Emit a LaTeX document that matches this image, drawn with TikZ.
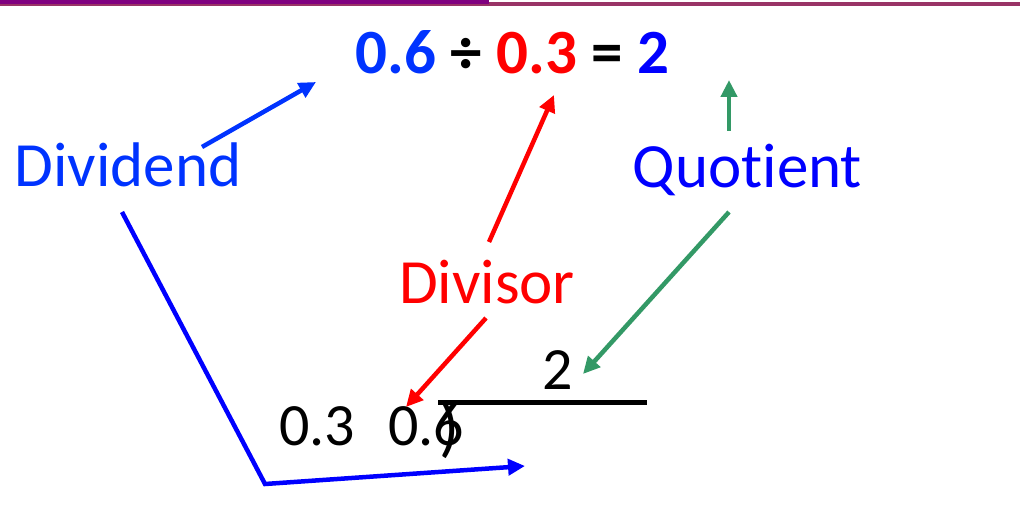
\documentclass[tikz,border=0pt]{standalone}
\usepackage{fontspec}
\setmainfont{Carlito}[Ligatures={NoCommon}]
\usetikzlibrary{arrows.meta}
\definecolor{dblue}{HTML}{0033FF}
\definecolor{pblue}{HTML}{0000FF}
\definecolor{qgreen}{HTML}{339966}
\definecolor{barpurple}{HTML}{800080}
\definecolor{barmaroon}{HTML}{993366}
\tikzset{
  lbl/.style={anchor=base, inner sep=0pt, font=\fontsize{63}{70}\selectfont},
  num/.style={anchor=base, inner sep=0pt, font=\fontsize{60}{66}\selectfont},
  arr/.style={line width=4.5pt, -{Triangle[length=17pt,width=16pt]}},
}
\begin{document}
\begin{tikzpicture}[x=1pt,y=-1pt]
\useasboundingbox (0,0) rectangle (1020,510);
% top bars
\fill[barmaroon] (0,2) rectangle (1020,6);
\fill[barpurple] (0,0) rectangle (489,3.7);
% equation
\node[num, font=\fontsize{63}{68}\selectfont\bfseries] (eq) at (512.5,74)
  {\textcolor{dblue}{0.6} ÷ \textcolor{red}{0.3} = \textcolor{pblue}{2}};
% labels
\node[lbl, text=dblue] (dividend) at (128,187) {Dividend};
\node[lbl, text=pblue] (quotient) at (747.5,188) {Quotient};
\node[lbl, text=red] (divisor) at (487,304) {Divisor};
% long division
\node[num] (d3) at (317,445) {0.3};
\node[num] (d6) at (426,445) {0.6};
\node[num, font=\fontsize{66}{70}\selectfont] (paren) at (450,449) {)};
\node[num] (q2) at (558,390) {2};
\coordinate (barL) at (438,403);
\coordinate (barR) at (647,403);
\draw[line width=5pt] (barL) -- (barR);
% arrow coordinates
\coordinate (a1s) at (202,147); \coordinate (a1e) at (316,82);
\coordinate (a2s) at (122,212); \coordinate (a2m) at (265,484); \coordinate (a2e) at (525,466);
\coordinate (a3s) at (489,242); \coordinate (a3e) at (554,95);
\coordinate (a4s) at (486,318); \coordinate (a4e) at (406,407);
\coordinate (a5s) at (729,131); \coordinate (a5e) at (729,80);
\coordinate (a6s) at (729,212); \coordinate (a6e) at (583,374);
\draw[arr, dblue] (a1s) -- (a1e);
\draw[arr, pblue, line join=miter] (a2s) -- (a2m) -- (a2e);
\draw[arr, red] (a3s) -- (a3e);
\draw[arr, red] (a4s) -- (a4e);
\draw[arr, qgreen] (a5s) -- (a5e);
\draw[arr, qgreen] (a6s) -- (a6e);
\end{tikzpicture}
\end{document}
